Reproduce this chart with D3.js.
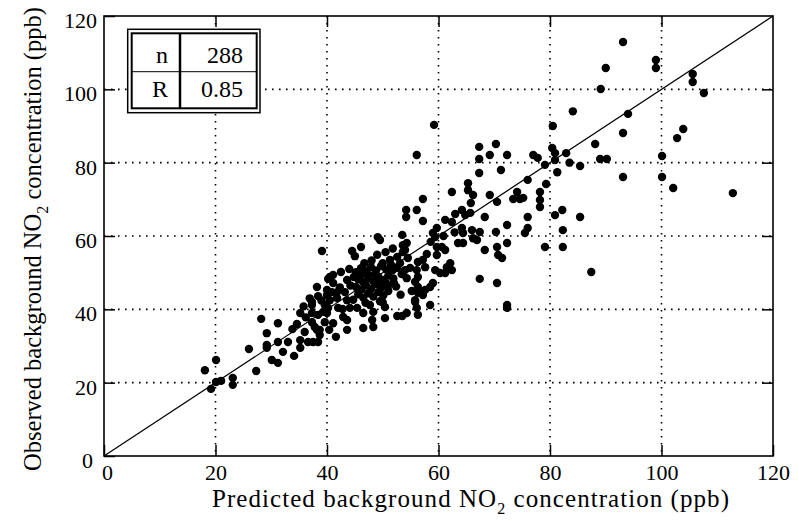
<!DOCTYPE html>
<html>
<head>
<meta charset="utf-8">
<script src="https://cdn.jsdelivr.net/npm/d3@7"></script>
<style>
  html, body { margin: 0; padding: 0; background: #fff; }
  svg { display: block; font-family: "Liberation Serif", "Times New Roman", serif; }
</style>
</head>
<body>
<svg id="chart" width="799" height="521"></svg>
<script>
// Predicted vs observed background NO2 (ppb), one entry per site-period
const predicted = [
  18.1,19.2,20.1,20.1,21.0,23.1,23.1,26.0,27.3,28.2,29.2,29.2,29.2,30.1,31.2,31.2,31.2,32.1,33.0,34.1,
  35.2,37.3,37.3,36.0,35.2,35.2,36.6,37.5,38.4,37.3,37.8,39.6,40.0,39.6,38.7,38.4,37.3,39.3,40.2,42.8,
  43.6,45.4,46.5,48.1,41.1,40.4,41.6,38.2,38.7,43.6,46.5,48.3,42.9,42.0,44.1,
  39.1,44.5,45.0,46.1,41.1,40.2,41.1,43.6,38.2,40.0,40.9,41.8,43.2,43.6,40.5,40.0,40.5,41.8,38.4,
  45.2,46.1,47.0,47.9,48.8,49.7,50.6,51.5,45.6,46.5,47.4,48.3,49.2,50.1,51.0,51.9,45.2,46.1,47.0,47.9,
  48.8,49.7,50.6,52.4,45.6,46.5,47.4,48.3,49.2,50.1,51.0,44.7,46.9,49.5,53.2,50.4,52.6,53.5,50.0,50.4,
  55.8,56.1,47.7,48.3,
  49.1,49.5,53.5,54.3,53.6,53.1,52.6,54.9,56.1,56.3,50.0,51.3,52.6,51.8,
  54.2,54.2,56.1,57.2,57.2,56.1,59.2,59.7,59.0,59.4,59.7,60.6,61.2,59.7,57.2,57.6,56.3,62.1,62.4,61.5,
  59.4,60.3,61.2,59.0,58.5,57.6,57.2,55.8,56.3,56.3,55.8,58.5,54.3,56.3,53.6,54.0,54.5,54.0,54.3,
  67.3,67.3,70.3,69.2,72.3,67.3,71.2,65.3,65.3,66.2,62.4,69.2,70.5,74.1,73.4,74.6,75.2,64.2,64.8,65.7,
  68.3,61.2,62.4,72.3,76.0,76.0,75.5,64.2,64.4,66.0,67.4,66.2,66.9,70.3,72.3,63.5,64.4,68.3,70.5,70.7,
  71.4,79.1,67.4,70.5,72.3,72.3,
  77.0,77.8,79.1,80.4,80.9,80.9,76.0,79.3,78.2,78.2,78.2,80.5,82.2,80.9,82.3,82.3,85.4,84.1,82.9,85.4,
  83.5,81.3,
  93.1,99.0,99.0,90.0,89.1,105.6,105.6,107.6,94.0,93.1,88.1,89.0,90.2,103.9,102.8,100.1,93.1,100.1,102.1,112.8,
  87.4,
  33.8,34.6,36.2,35.8,36.9,39.0,42.3,42.5,44.0,44.2,44.8,46.7,48.0,49.0,50.5,51.8,48.6,47.3,46.0,50.9,
  52.0,49.3,53.4,55.2,57.9,58.6,60.9,62.9,63.0,65.8
];
const observed = [
  23.4,18.3,26.2,20.2,20.5,21.3,19.4,29.2,23.2,37.4,33.5,30.3,29.5,26.2,25.4,36.2,31.1,28.4,31.1,27.3,
  39.0,41.2,42.0,33.8,31.6,29.5,31.1,31.1,31.1,36.5,35.2,41.2,39.0,36.5,34.4,38.5,39.0,39.3,40.4,40.1,
  37.1,40.4,39.0,37.1,36.2,34.4,32.5,34.4,33.0,34.4,34.9,35.2,37.9,40.4,40.4,
  55.9,55.9,54.5,57.0,49.4,48.3,47.2,48.0,46.1,45.3,44.7,43.1,44.7,42.5,48.8,43.9,42.5,44.7,43.6,
  50.1,51.2,50.4,51.5,50.6,51.8,50.9,52.1,48.2,47.4,48.6,47.7,48.9,48.0,49.2,48.4,46.1,45.3,46.5,45.6,
  46.8,45.9,47.1,46.2,44.1,43.2,44.4,43.5,44.7,43.8,45.0,42.6,41.8,42.2,44.0,37.6,38.2,38.2,41.9,40.6,
  42.5,40.4,41.2,39.3,
  59.7,58.9,60.3,58.1,55.6,52.6,51.3,51.3,50.7,48.8,52.6,53.5,54.3,50.7,
  67.1,65.2,67.1,64.1,70.1,82.1,90.3,62.2,60.8,59.7,57.0,57.0,56.2,54.8,53.5,51.5,52.9,52.6,50.7,51.5,
  50.7,49.9,49.9,47.2,46.1,45.3,43.9,47.5,46.1,44.5,42.0,41.2,39.0,38.5,57.5,56.2,54.0,50.7,48.5,
  84.3,81.0,85.1,82.1,82.1,77.2,78.0,74.4,72.5,71.2,72.0,71.2,69.3,72.0,70.1,70.1,70.4,67.1,65.7,66.3,
  65.2,64.4,63.8,63.0,65.2,62.2,60.8,62.2,60.8,61.6,61.1,59.4,58.9,61.1,58.1,58.1,58.1,56.2,57.0,54.8,
  54.0,57.0,48.3,47.2,41.2,40.4,
  82.1,81.3,79.4,84.0,82.6,80.7,75.3,74.2,72.0,69.8,67.9,90.0,67.1,65.7,61.6,57.0,65.2,94.0,82.6,79.1,
  80.0,77.4,
  112.9,108.0,105.8,105.8,100.1,104.2,102.0,99.0,93.3,88.1,85.1,81.0,81.0,89.2,86.7,81.8,76.1,76.1,73.1,71.7,
  50.2,
  34.6,36.0,37.8,40.8,43.0,42.4,46.0,50.2,51.0,46.5,48.8,52.6,53.3,54.9,55.6,56.6,49.6,49.5,49.3,46.1,
  47.2,47.4,49.6,45.0,55.1,58.4,60.0,61.0,66.0,69.0
];

const tickValues = [0, 20, 40, 60, 80, 100, 120];
const gridValues = [20, 40, 60, 80, 100];
const statLabels = ["n", "R"];
const statValues = ["288", "0.85"];

const svg = d3.select("#chart");
const plotLeft = 104, plotRight = 773, plotTop = 16, plotBottom = 456;

const x = d3.scaleLinear().domain([0, 120]).range([plotLeft, plotRight]);
const y = d3.scaleLinear().domain([0, 120]).range([plotBottom, plotTop]);

// dotted grid
const grid = svg.append("g").attr("stroke", "#000").attr("stroke-width", 1.6)
  .attr("stroke-dasharray", "1.6,5.4");
grid.selectAll("line.v").data(gridValues).join("line").attr("class", "v")
  .attr("x1", d => x(d)).attr("x2", d => x(d)).attr("y1", plotTop).attr("y2", plotBottom);
grid.selectAll("line.h").data(gridValues).join("line").attr("class", "h")
  .attr("y1", d => y(d)).attr("y2", d => y(d)).attr("x1", plotLeft).attr("x2", plotRight);

// 1:1 line
svg.append("line")
  .attr("x1", x(0)).attr("y1", y(0)).attr("x2", x(120)).attr("y2", y(120))
  .attr("stroke", "#000").attr("stroke-width", 1.2);

// points
svg.append("g").selectAll("circle").data(predicted.map((p, i) => [p, observed[i]])).join("circle")
  .attr("cx", d => x(d[0])).attr("cy", d => y(d[1])).attr("r", 4.2).attr("fill", "#000");

// axes with inward ticks on all four sides
const tickLen = 11;
const styleAxis = g => {
  g.select(".domain").remove();
  g.selectAll(".tick line").attr("stroke", "#000").attr("stroke-width", 1.5);
  g.selectAll(".tick text").attr("fill", "#000").attr("font-size", 22)
    .attr("font-family", "Liberation Serif, Times New Roman, serif");
};
svg.append("g").attr("transform", `translate(0,${plotBottom})`)
  .call(d3.axisBottom(x).tickValues(tickValues).tickSizeInner(-tickLen).tickSizeOuter(0).tickPadding(8).tickFormat(d3.format("d")))
  .call(styleAxis)
  .call(g => g.selectAll(".tick text").attr("dx", d => d === 0 ? 3 : 0));
svg.append("g").attr("transform", `translate(${plotLeft},0)`)
  .call(d3.axisLeft(y).tickValues(tickValues).tickSizeInner(-tickLen).tickSizeOuter(0).tickPadding(7).tickFormat(d3.format("d")))
  .call(styleAxis)
  .call(g => g.selectAll(".tick text").attr("dy", "0.52em").attr("dx", d => d === 0 ? -4 : 0));
svg.append("g").attr("transform", `translate(0,${plotTop})`)
  .call(d3.axisTop(x).tickValues(gridValues).tickSizeInner(-tickLen).tickSizeOuter(0).tickFormat(""))
  .call(styleAxis);
svg.append("g").attr("transform", `translate(${plotRight},0)`)
  .call(d3.axisRight(y).tickValues(gridValues).tickSizeInner(-tickLen).tickSizeOuter(0).tickFormat(""))
  .call(styleAxis);

// frame
svg.append("rect").attr("x", plotLeft).attr("y", plotTop)
  .attr("width", plotRight - plotLeft).attr("height", plotBottom - plotTop)
  .attr("fill", "none").attr("stroke", "#000").attr("stroke-width", 1.6);

// axis titles
const xTitle = svg.append("text").attr("x", 212).attr("y", 507)
  .attr("text-anchor", "start").attr("font-size", 25).attr("fill", "#000");
xTitle.append("tspan").text("Predicted background NO");
xTitle.append("tspan").attr("dy", 7).attr("font-size", 16).text("2");
xTitle.append("tspan").attr("dy", -7).text(" concentration (ppb)");
// spread the letters so the title runs from x=212 to x=730
{
  const w0 = xTitle.node().getBBox().width;
  const nChars = xTitle.text().length;
  xTitle.attr("letter-spacing", Math.max(0, (730 - 212 - w0) / nChars));
}

const yTitle = svg.append("text")
  .attr("transform", `translate(41,239) rotate(-90)`)
  .attr("text-anchor", "middle").attr("font-size", 24.5).attr("fill", "#000");
yTitle.append("tspan").text("Observed background NO");
yTitle.append("tspan").attr("dy", 7).attr("font-size", 16).text("2");
yTitle.append("tspan").attr("dy", -7).text(" concentration (ppb)");

// statistics box
const box = svg.append("g");
box.append("rect").attr("x", 127.7).attr("y", 29.3).attr("width", 132.3).attr("height", 83.4)
  .attr("fill", "#fff").attr("stroke", "#000").attr("stroke-width", 1.5);
box.append("rect").attr("x", 131.7).attr("y", 33.3).attr("width", 125).attr("height", 75)
  .attr("fill", "none").attr("stroke", "#000").attr("stroke-width", 2);
box.append("line").attr("x1", 180).attr("x2", 180).attr("y1", 33.3).attr("y2", 108.3)
  .attr("stroke", "#000").attr("stroke-width", 2.5);
box.append("line").attr("x1", 131.7).attr("x2", 256.7).attr("y1", 71.7).attr("y2", 71.7)
  .attr("stroke", "#000").attr("stroke-width", 1);
box.selectAll("text.lab").data(statLabels).join("text").attr("class", "lab")
  .attr("x", 168).attr("y", (d, i) => 63 + i * 34).attr("text-anchor", "end")
  .attr("font-size", 24).attr("fill", "#000").text(d => d);
box.selectAll("text.val").data(statValues).join("text").attr("class", "val")
  .attr("x", 243).attr("y", (d, i) => 63 + i * 34).attr("text-anchor", "end")
  .attr("font-size", 24).attr("fill", "#000").text(d => d);
</script>
</body>
</html>
